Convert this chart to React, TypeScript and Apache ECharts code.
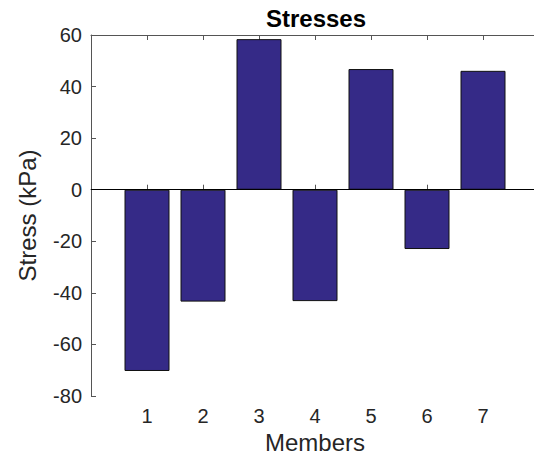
import React, { useEffect, useRef } from "react";
import * as echarts from "echarts";

const members = [1, 2, 3, 4, 5, 6, 7];
const stresses = [-70.3, -43.4, 58.4, -43.2, 46.8, -23.0, 46.1];
const yTicks = { min: -80, max: 60, interval: 20 };
const xRange = { min: 0, max: 8, interval: 1 };
const titleText = "Stresses";
const xName = "Members";
const yName = "Stress (kPa)";

const FONT = "'Liberation Sans', Arial, Helvetica, sans-serif";
const TEXT = "#262626";
const AXIS = "#555555";

export default function App() {
  const ref = useRef<HTMLDivElement>(null);
  useEffect(() => {
    if (!ref.current) return;
    const chart = echarts.init(ref.current, null, { renderer: "svg" });
    const xLabel = (v: number) => (members.includes(v) ? String(v) : "");
    chart.setOption({
      animation: false,
      backgroundColor: "#ffffff",
      title: {
        text: titleText,
        left: 311,
        textAlign: "center",
        top: 1,
        textStyle: { fontFamily: FONT, fontSize: 24, fontWeight: "bold", color: "#000" },
      },
      grid: {
        left: 91,
        top: 35,
        width: 448,
        height: 361,
        containLabel: false,
        outerBoundsMode: "none",
      },
      xAxis: [
        {
          type: "value",
          min: xRange.min,
          max: xRange.max,
          interval: xRange.interval,
          name: xName,
          nameLocation: "middle",
          nameGap: 32,
          nameTextStyle: { fontFamily: FONT, fontSize: 24, color: TEXT, lineHeight: 24 },
          axisLine: { show: true, lineStyle: { color: AXIS, width: 1 } },
          axisTick: { show: true, inside: true, length: 5, lineStyle: { color: AXIS } },
          axisLabel: { formatter: xLabel, fontFamily: FONT, fontSize: 20, color: TEXT, margin: 10 },
          splitLine: { show: false },
        },
        {
          type: "value",
          position: "top",
          min: xRange.min,
          max: xRange.max,
          interval: xRange.interval,
          axisLine: { show: true, lineStyle: { color: AXIS, width: 1 } },
          axisTick: { show: true, inside: true, length: 5, lineStyle: { color: AXIS } },
          axisLabel: { show: false },
          splitLine: { show: false },
        },
      ],
      yAxis: {
        type: "value",
        min: yTicks.min,
        max: yTicks.max,
        interval: yTicks.interval,
        name: yName,
        nameLocation: "middle",
        nameGap: 52,
        nameTextStyle: { fontFamily: FONT, fontSize: 24, color: TEXT },
        axisLine: { show: true, lineStyle: { color: AXIS, width: 1 } },
        axisTick: { show: true, inside: true, length: 5, lineStyle: { color: AXIS } },
        axisLabel: { fontFamily: FONT, fontSize: 20, color: TEXT, margin: 9 },
        splitLine: { show: false },
      },
      series: [
        {
          type: "bar",
          xAxisIndex: 0,
          data: members.map((m, i) => [m, stresses[i]]),
          barWidth: 45,
          itemStyle: { color: "#352A87", borderColor: "#111111", borderWidth: 1 },
          markLine: {
            silent: true,
            symbol: "none",
            label: { show: false },
            lineStyle: { color: "#000", width: 1, type: "solid" },
            data: [{ yAxis: 0 }],
          },
        },
      ],
    });
    return () => chart.dispose();
  }, []);
  return <div ref={ref} style={{ width: 534, height: 455, position: "absolute", left: 0, top: 0, overflow: "hidden" }} />;
}
